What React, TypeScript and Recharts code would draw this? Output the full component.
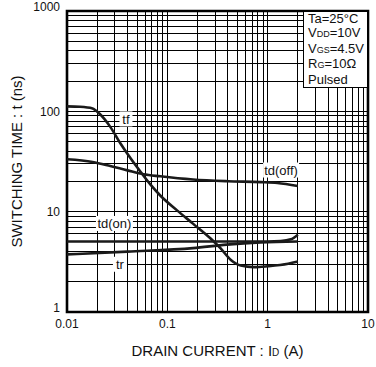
import React from "react";
import { LineChart, Line, XAxis, YAxis, ReferenceLine, ReferenceArea, ReferenceDot, Label } from "recharts";

const FONT = '"Liberation Sans", Arial, Helvetica, sans-serif';

// axis ticks
const xTicks = [0.01, 0.1, 1, 10];
const xTickLabels = ["0.01", "0.1", "1", "10"];
const yTicks = [1, 10, 100, 1000];
const yTickLabels = ["1", "10", "100", "1000"];

// grid (log minor lines)
const gridMultipliers = [1, 2, 3, 4, 5, 6, 7, 8, 9];
const xDecades = [0.01, 0.1, 1];
const yDecades = [1, 10, 100];

// series: tf
const tfX = [0.01, 0.0135, 0.018, 0.021, 0.027, 0.034, 0.043, 0.054, 0.068, 0.085, 0.125, 0.18, 0.27, 0.34, 0.43, 0.54, 0.73, 1, 1.6, 2];
const tfY = [112, 111, 107, 95, 70, 48, 34, 25, 18.6, 14.5, 10.3, 7.6, 5.4, 4.3, 3.3, 2.9, 2.8, 2.86, 3.03, 3.19];
// td(off)
const tdOffX = [0.01, 0.018, 0.027, 0.04, 0.058, 0.085, 0.18, 0.4, 0.85, 1.25, 2];
const tdOffY = [33.3, 31.3, 28.5, 25.8, 23.6, 22.5, 20.9, 20.1, 19.7, 19.3, 18.0];
// td(on)
const tdOnX = [0.01, 0.1, 1, 1.35, 1.7, 2];
const tdOnY = [5.05, 5.05, 5.05, 5.1, 5.3, 5.9];
// tr
const trX = [0.01, 0.04, 0.18, 0.39, 0.85, 2];
const trY = [3.75, 4.0, 4.33, 4.69, 4.94, 5.05];

// curve label anchors
const curveLabels = [
  { text: "tf", x: 0.0387, y: 84, w: 13 },
  { text: "td(off)", x: 1.36, y: 26, w: 36 },
  { text: "td(on)", x: 0.0297, y: 7.63, w: 37 },
  { text: "tr", x: 0.0337, y: 2.99, w: 14 },
];

const toData = (xs: number[], ys: number[]) => xs.map((x, i) => ({ x, y: ys[i] }));
const tfData = toData(tfX, tfY);
const tdOffData = toData(tdOffX, tdOffY);
const tdOnData = toData(tdOnX, tdOnY);
const trData = toData(trX, trY);

const xGrid = xDecades.flatMap((d) => gridMultipliers.map((m) => +(d * m).toPrecision(3))).concat([10]);
const yGrid = yDecades.flatMap((d) => gridMultipliers.map((m) => +(d * m).toPrecision(3))).concat([1000]);

const YTick = (props: any) => {
  const { x, y, payload } = props;
  const v = payload.value;
  const i = yTicks.indexOf(v);
  const dy = v === 1000 ? -4.5 : v === 1 ? -4 : 0;
  return (
    <text x={x} y={y + dy} dy="0.355em" textAnchor="end" fontSize={12} fill="#111" fontFamily={FONT}>
      {yTickLabels[i]}
    </text>
  );
};

const XTick = (props: any) => {
  const { x, y, payload } = props;
  const i = xTicks.indexOf(payload.value);
  return (
    <text x={x} y={y} dy="0.72em" textAnchor="middle" fontSize={12} fill="#111" fontFamily={FONT}>
      {xTickLabels[i]}
    </text>
  );
};

const XTitle = (props: any) => {
  const { viewBox } = props;
  const cx = viewBox.x + viewBox.width / 2;
  const cy = viewBox.y + 39;
  return (
    <text x={cx} y={cy} dy="0.355em" textAnchor="middle" fontSize={15} fill="#111" fontFamily={FONT}>
      DRAIN CURRENT : I<tspan fontSize={10}>D</tspan> (A)
    </text>
  );
};

const YTitle = (props: any) => {
  const { viewBox } = props;
  const cx = viewBox.x + 16.5;
  const cy = viewBox.y + viewBox.height / 2;
  return (
    <text x={cx} y={cy} dy="0.355em" textAnchor="middle" fontSize={15} fill="#111" fontFamily={FONT} transform={`rotate(-90, ${cx}, ${cy})`}>
      SWITCHING TIME : t (ns)
    </text>
  );
};

const makeLabelShape = (text: string, w: number) => (props: any) => {
  const { cx, cy } = props;
  return (
    <g>
      <rect x={cx - w / 2} y={cy - 7.5} width={w} height={15} fill="#fff" />
      <text x={cx} y={cy} dy="0.355em" textAnchor="middle" fontSize={13} fill="#111" fontFamily={FONT}>
        {text}
      </text>
    </g>
  );
};

const lineStyle = { stroke: "#1a1a1a", strokeWidth: 2.6 };

export default function App() {
  return (
    <div style={{ position: "absolute", left: 0, top: 0, width: 376, height: 367, background: "#fff" }}>
      <LineChart width={376} height={367} margin={{ top: 11, right: 8, left: 0, bottom: 0 }}>
        <XAxis
          dataKey="x"
          type="number"
          scale="log"
          domain={[0.01, 10]}
          ticks={xTicks}
          allowDataOverflow
          axisLine={false}
          tickLine={false}
          tickSize={0}
          tickMargin={7}
          height={55}
          tick={<XTick />}
          interval={0}
        >
          <Label content={<XTitle />} position="insideBottom" />
        </XAxis>
        <YAxis
          dataKey="y"
          type="number"
          scale="log"
          domain={[1, 1000]}
          ticks={yTicks}
          allowDataOverflow
          axisLine={false}
          tickLine={false}
          tickSize={0}
          tickMargin={7}
          width={67}
          tick={<YTick />}
          interval={0}
        >
          <Label content={<YTitle />} position="insideLeft" />
        </YAxis>
        {xGrid.map((v) => (
          <ReferenceLine key={"gx" + v} x={v} stroke="#000" strokeWidth={1} shapeRendering="crispEdges" ifOverflow="visible" />
        ))}
        {yGrid.map((v) => (
          <ReferenceLine key={"gy" + v} y={v} stroke="#000" strokeWidth={1} shapeRendering="crispEdges" ifOverflow="visible" />
        ))}
        <Line data={tfData} dataKey="y" type="monotone" dot={false} isAnimationActive={false} {...lineStyle} />
        <Line data={tdOffData} dataKey="y" type="monotone" dot={false} isAnimationActive={false} {...lineStyle} />
        <Line data={tdOnData} dataKey="y" type="monotone" dot={false} isAnimationActive={false} {...lineStyle} />
        <Line data={trData} dataKey="y" type="monotone" dot={false} isAnimationActive={false} {...lineStyle} />
        {curveLabels.map((l) => (
          <ReferenceDot key={l.text} x={l.x} y={l.y} r={0} ifOverflow="visible" shape={makeLabelShape(l.text, l.w)} />
        ))}
        <ReferenceArea x1={0.01} x2={10} y1={1} y2={1000} fill="none" stroke="#000" strokeWidth={2.6} ifOverflow="visible" />
      </LineChart>
      <div
        style={{
          position: "absolute",
          left: 303,
          top: 11,
          width: 65,
          height: 77,
          boxSizing: "border-box",
          border: "1.5px solid #000",
          background: "#fff",
          fontFamily: FONT,
          fontSize: 13,
          lineHeight: "14.4px",
          color: "#111",
          paddingLeft: 4,
          paddingTop: 0,
        }}
      >
        <div>Ta=25°C</div>
        <div>
          V<span style={{ fontSize: 9 }}>DD</span>=10V
        </div>
        <div>
          V<span style={{ fontSize: 9 }}>GS</span>=4.5V
        </div>
        <div>
          R<span style={{ fontSize: 9 }}>G</span>=10Ω
        </div>
        <div>Pulsed</div>
      </div>
    </div>
  );
}
